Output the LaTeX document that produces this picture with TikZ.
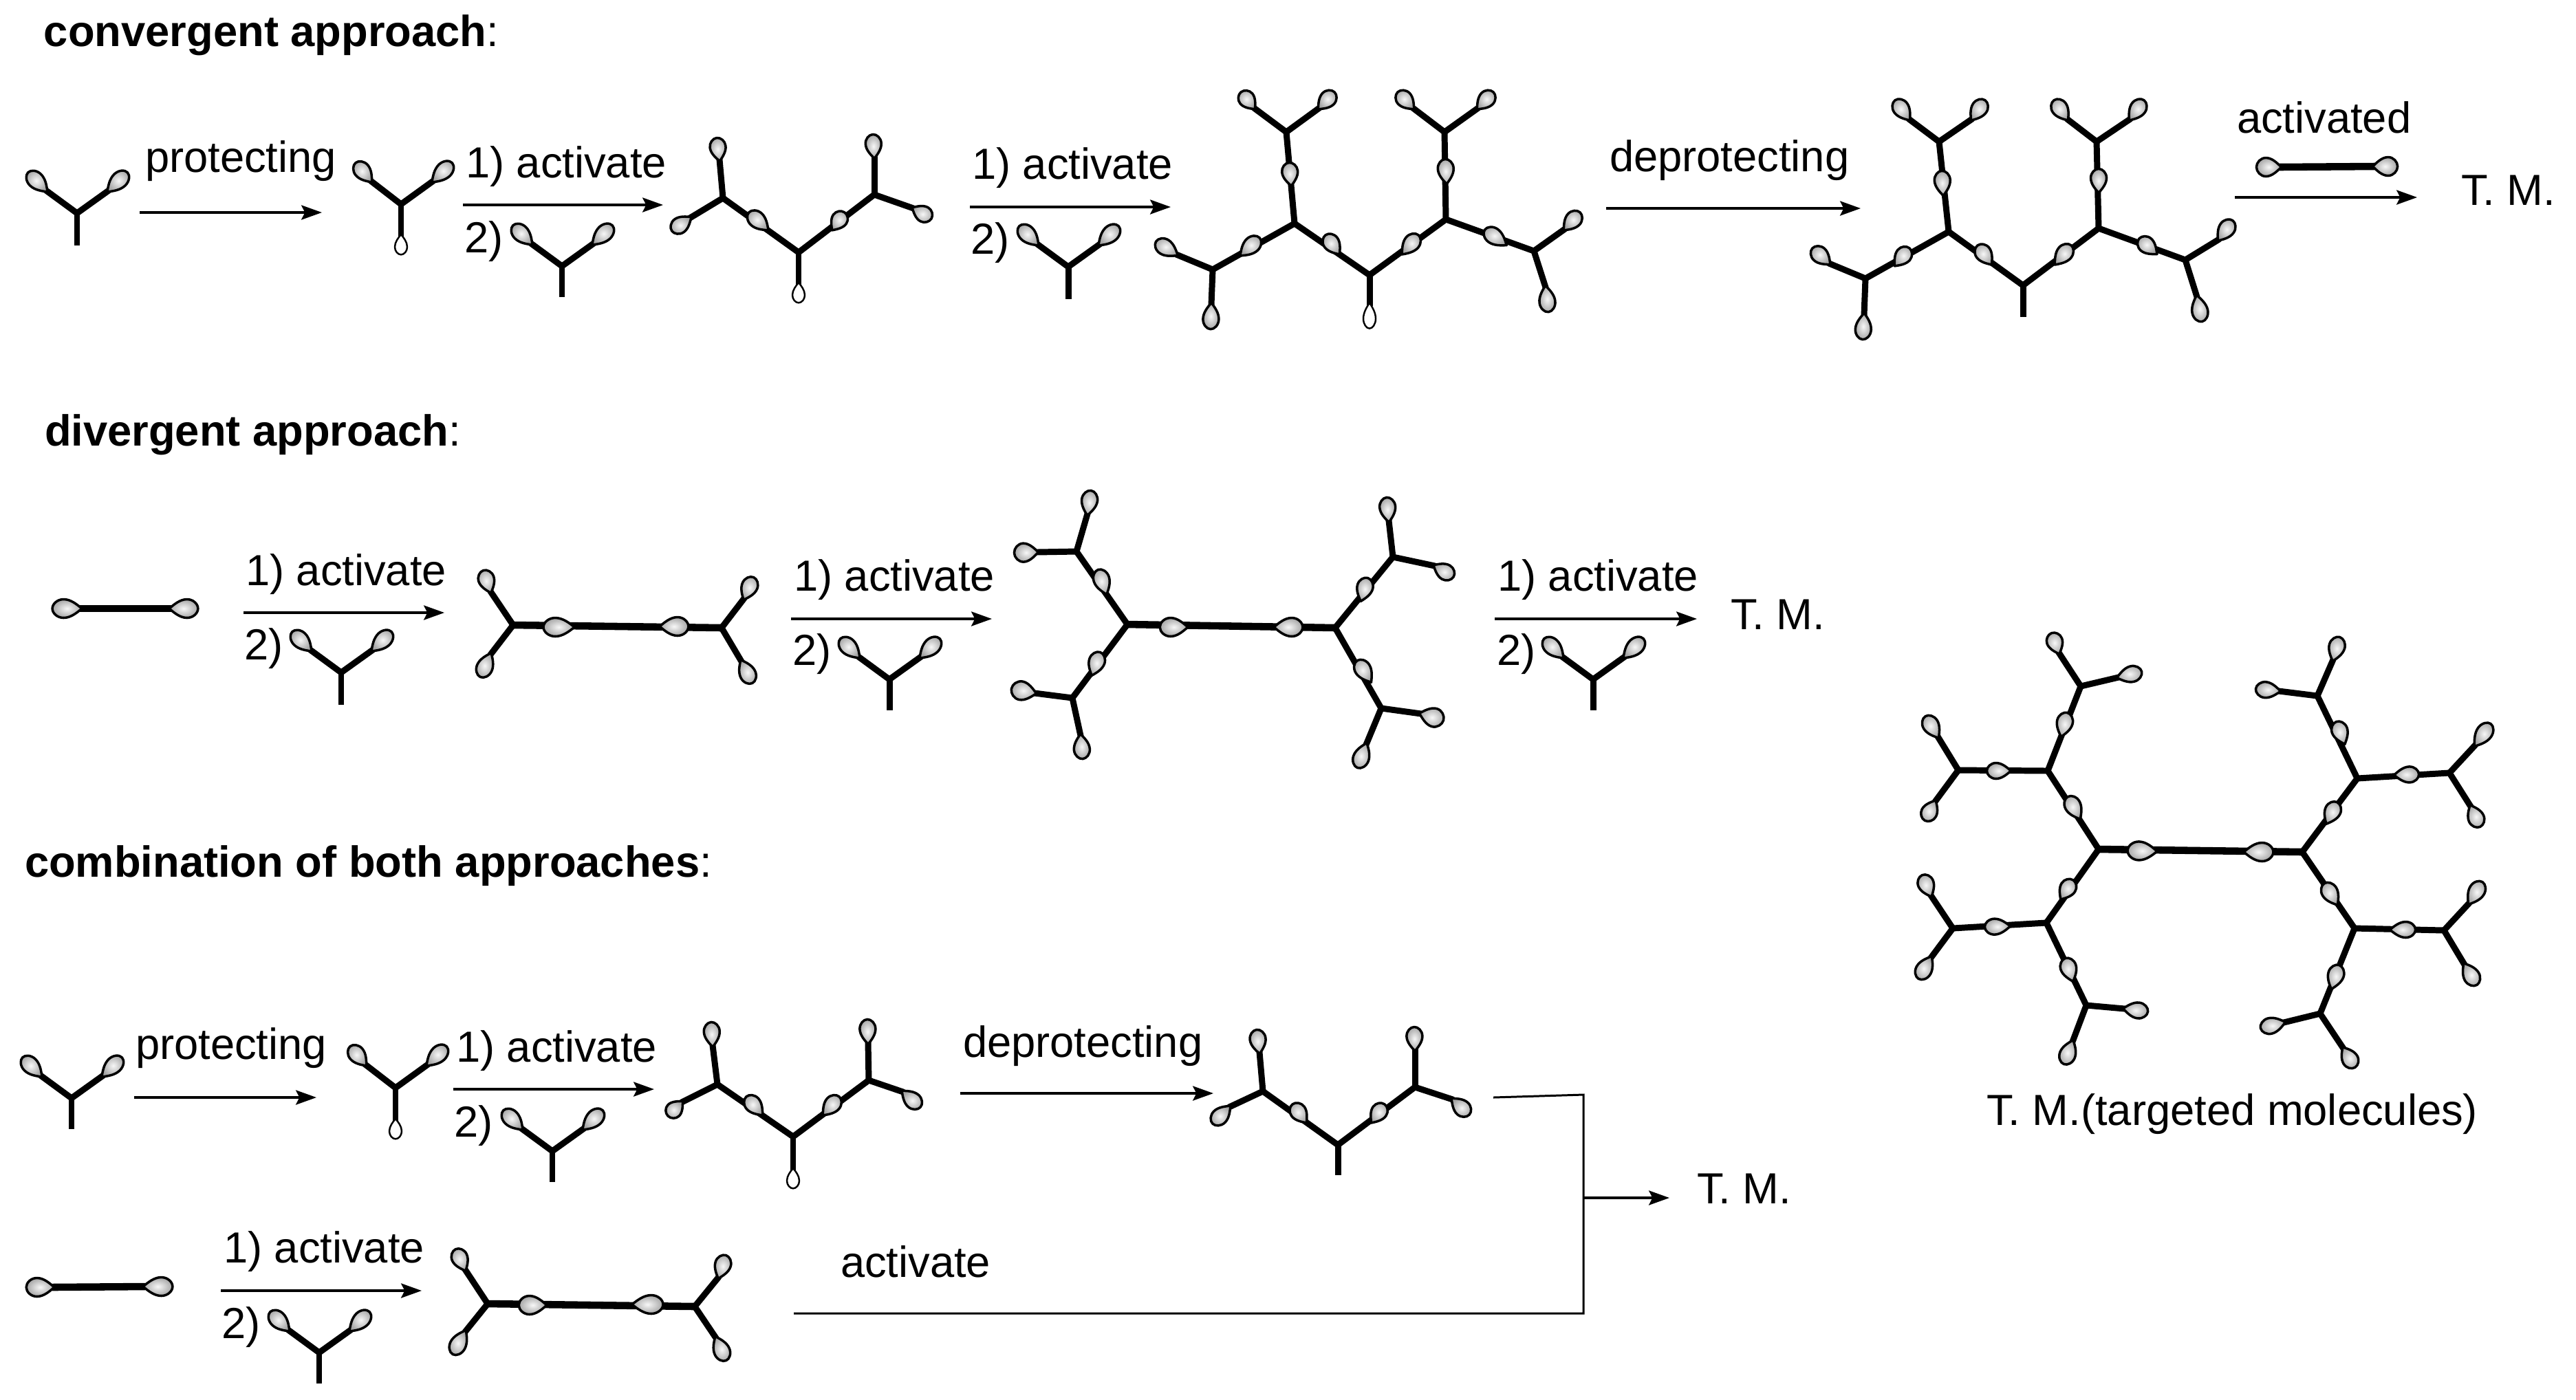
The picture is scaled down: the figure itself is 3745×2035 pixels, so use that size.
\documentclass[tikz,border=0pt]{standalone}
\usepackage{fontspec}
\setmainfont{Liberation Sans}
\usetikzlibrary{arrows.meta}
\tikzset{
  bondline/.style={line width=2.55pt,line cap=round,line join=round,black},
  stemline/.style={line width=2.55pt,line cap=butt,black},
  rodline/.style={line width=3pt,line cap=butt,black},
  orb/.style={draw=black,line width=1pt,line join=round,inner color=gray!6,outer color=gray!70},
  orbwhite/.style={draw=black,line width=0.7pt,line join=round,fill=white},
  rxn/.style={line width=1pt,-{Stealth[length=8.5pt,width=6pt,inset=1.5pt]}},
  joinline/.style={line width=0.85pt,line join=miter},
  lab/.style={anchor=base west,inner sep=0pt,outer sep=0pt,font=\fontsize{18}{20}\selectfont,text=black}
}
% teardrop from narrow base (a) to round far end (b)
\newcommand\lpt[2]{({\lA+#1*\ldx+#2*\lnx},{\lB+#1*\ldy+#2*\lny})}
\newcommand\lobepath[6]{%
  \pgfmathsetmacro\lA{#1}\pgfmathsetmacro\lB{#2}%
  \pgfmathsetmacro\ldx{#3-#1}\pgfmathsetmacro\ldy{#4-#2}%
  \pgfmathsetmacro\lln{veclen(\ldx,\ldy)}%
  \pgfmathsetmacro\lnx{-\ldy/\lln*#5/2}\pgfmathsetmacro\lny{\ldx/\lln*#5/2}%
  \path[#6] \lpt{-.08}{0} .. controls \lpt{.1}{.42} and \lpt{.34}{1} .. \lpt{.62}{1}
    .. controls \lpt{.86}{1} and \lpt{1.05}{.5} .. \lpt{1.05}{0}
    .. controls \lpt{1.05}{-.5} and \lpt{.86}{-1} .. \lpt{.62}{-1}
    .. controls \lpt{.34}{-1} and \lpt{.1}{-.42} .. \lpt{-.08}{0} -- cycle;}
\newcommand\lobe[4]{\lobepath{#1}{#2}{#3}{#4}{23}{orb}}
\newcommand\flobe[4]{\lobepath{#1}{#2}{#3}{#4}{27}{orb}}
\newcommand\wlobe[4]{\lobepath{#1}{#2}{#3}{#4}{18}{orbwhite}}
\newcommand\bd[4]{\draw[bondline] (#1,#2) -- (#3,#4);}
% bond from junction to a base, then lobe
\newcommand\arm[6]{\bd{#1}{#2}{#3}{#4}\lobe{#3}{#4}{#5}{#6}}
\newcommand\farm[6]{\bd{#1}{#2}{#3}{#4}\flobe{#3}{#4}{#5}{#6}}
% bond between junctions with a lobe on it
\newcommand\midl[8]{\bd{#1}{#2}{#3}{#4}\lobe{#5}{#6}{#7}{#8}}
\newcommand\stem[3]{\draw[stemline] (#1,#2) -- (#1,#3);}
% the Y unit
\newcommand\yunit[3]{%
  \pgfmathsetmacro\ya{#1-45}\pgfmathsetmacro\yb{#2-33}\pgfmathsetmacro\yc{#1-70}\pgfmathsetmacro\yd{#2-58}%
  \pgfmathsetmacro\ye{#1+46}\pgfmathsetmacro\yf{#1+72}%
  \edef\yargs{{#1}{#2}{\ya}{\yb}{\yc}{\yd}}%
  \expandafter\arm\yargs
  \edef\yargs{{#1}{#2}{\ye}{\yb}{\yf}{\yd}}%
  \expandafter\arm\yargs
  \stem{#1}{#2}{#3}}
\newcommand\rxnarrow[4]{%
  \coordinate (#1a) at (#2,#4);\coordinate (#1b) at (#3,#4);\draw[rxn] (#1a) -- (#1b);}
\begin{document}
\begin{tikzpicture}[x=0.01cm,y=-0.01cm]
\useasboundingbox (0,0) rectangle (3745,2035);
\fill[white] (0,0) rectangle (3745,2035);
% ---- texts
\node[lab] (h1) at (64,67) {\textbf{convergent approach}:};
\node[lab] (h2) at (65,648) {\textbf{divergent approach}:};
\node[lab] (h3) at (36,1275) {\textbf{combination of both approaches}:};
\node[lab] (t1) at (211,250) {protecting};
\node[lab] (t2) at (677,258) {1) activate};
\node[lab] (t3) at (675,367) {2)};
\node[lab] (t4) at (1413,260) {1) activate};
\node[lab] (t5) at (1411,369) {2)};
\node[lab] (t6) at (2340,249) {deprotecting};
\node[lab] (t7) at (3252,193) {activated};
\node[lab] (tm1) at (3578,298) {T. M.};
\node[lab] (t8) at (357,851) {1) activate};
\node[lab] (t9) at (355,959) {2)};
\node[lab] (t10) at (1154,859) {1) activate};
\node[lab] (t11) at (1152,967) {2)};
\node[lab] (t12) at (2177,859) {1) activate};
\node[lab] (t13) at (2176,967) {2)};
\node[lab] (tm2) at (2516,915) {T. M.};
\node[lab] (t14) at (197,1540) {protecting};
\node[lab] (t15) at (663,1544) {1) activate};
\node[lab] (t16) at (660,1653) {2)};
\node[lab] (t17) at (1400,1537) {deprotecting};
\node[lab] (t18) at (325,1836) {1) activate};
\node[lab] (t19) at (322,1946) {2)};
\node[lab] (t20) at (1222,1857) {activate};
\node[lab] (tm3) at (2467,1750) {T. M.};
\node[lab] (tm4) at (2888,1636) {T. M.(targeted molecules)};
% ---- arrows
\rxnarrow{r1}{203}{468}{309}
\rxnarrow{r2}{673}{964}{298}
\rxnarrow{r3}{1410}{1702}{301}
\rxnarrow{r4}{2335}{2705}{303}
\rxnarrow{r5}{3249}{3514}{287}
\rxnarrow{d1}{354}{646}{891}
\rxnarrow{d2}{1150}{1442}{900}
\rxnarrow{d3}{2173}{2467}{900}
\rxnarrow{c1}{195}{460}{1596}
\rxnarrow{c2}{659}{951}{1584}
\rxnarrow{c3}{1396}{1764}{1590}
\rxnarrow{c4}{321}{613}{1877}
\coordinate (ja) at (2171,1596);\coordinate (jb) at (2302,1592);
\coordinate (jc) at (2302,1910);\coordinate (jd) at (1154,1910);
\coordinate (je) at (2302,1742);\coordinate (jf) at (2427,1742);
\draw[joinline] (ja) -- (jb) -- (jc) -- (jd);
\draw[rxn] (je) -- (jf);
% ---- simple Y units
\yunit{112}{310}{357}
\yunit{817}{387}{432}
\yunit{1553}{388}{435}
\yunit{496}{978}{1025}
\yunit{1293}{988}{1033}
\yunit{2316}{988}{1033}
\yunit{104}{1597}{1642}
\yunit{803}{1674}{1719}
\yunit{464}{1967}{2012}
% protected Y, row 1
\arm{583}{297}{539}{263}{518}{238}
\arm{583}{297}{630}{263}{656}{238}
\stem{583}{297}{345}\wlobe{583}{343}{583}{369}
% protected Y, row 3
\arm{575}{1582}{531}{1548}{510}{1523}
\arm{575}{1582}{622}{1548}{648}{1523}
\stem{575}{1582}{1631}\wlobe{575}{1629}{575}{1655}
% ---- M1 row 1
\stem{1161}{367}{415}\wlobe{1161}{413}{1161}{439}
\midl{1161}{367}{1051}{288}{1115}{333}{1090}{310}
\midl{1161}{367}{1271}{283}{1211}{333}{1227}{310}
\arm{1051}{288}{1046}{232}{1042}{202}
\arm{1051}{288}{1003}{317}{978}{335}
\arm{1271}{283}{1271}{228}{1269}{197}
\arm{1271}{283}{1328}{303}{1353}{317}
% ---- M2 row 1
\stem{1991}{400}{445}\wlobe{1991}{443}{1991}{476}
\midl{1991}{400}{1882}{325}{1946}{368}{1928}{343}
\midl{1991}{400}{2102}{319}{2040}{368}{2061}{343}
\midl{1882}{325}{1870}{192}{1877}{268}{1874}{238}
\midl{2102}{319}{2100}{192}{2103}{265}{2101}{233}
\arm{1870}{192}{1823}{157}{1805}{135}
\arm{1870}{192}{1918}{157}{1939}{135}
\arm{2100}{192}{2054}{157}{2033}{135}
\arm{2100}{192}{2149}{157}{2170}{135}
\midl{1882}{325}{1763}{392}{1805}{370}{1830}{347}
\arm{1763}{392}{1710}{370}{1682}{352}
\arm{1763}{392}{1761}{443}{1760}{477}
\midl{2102}{319}{2230}{365}{2188}{355}{2160}{335}
\arm{2230}{365}{2275}{333}{2296}{310}
\arm{2230}{365}{2247}{418}{2251}{452}
% ---- M3 row 1
\stem{2941}{415}{461}
\midl{2941}{415}{2833}{337}{2894}{383}{2876}{358}
\midl{2941}{415}{3051}{332}{2989}{383}{3010}{358}
\midl{2833}{337}{2819}{206}{2825}{282}{2823}{250}
\midl{3051}{332}{3048}{206}{3051}{278}{3051}{247}
\arm{2819}{206}{2775}{173}{2756}{147}
\arm{2819}{206}{2867}{173}{2885}{147}
\arm{3048}{206}{3005}{173}{2987}{147}
\arm{3048}{206}{3097}{173}{3116}{147}
\midl{2833}{337}{2712}{405}{2756}{385}{2775}{362}
\arm{2712}{405}{2659}{383}{2636}{362}
\arm{2712}{405}{2710}{458}{2708}{492}
\midl{3051}{332}{3177}{378}{3134}{368}{3111}{348}
\arm{3177}{378}{3226}{348}{3245}{322}
\arm{3177}{378}{3194}{432}{3201}{466}
% ---- rods
\draw[rodline] (3314,243) -- (3452,242);\flobe{3314}{243}{3282}{243}\flobe{3452}{242}{3484}{242}
\draw[rodline] (116,885) -- (249,885);\flobe{116}{885}{78}{885}\flobe{249}{885}{286}{885}
\draw[rodline] (76,1872) -- (211,1871);\flobe{76}{1872}{40}{1872}\flobe{211}{1871}{249}{1871}
% ---- D1
\draw[rodline] (746,909) -- (1049,913);\flobe{832}{912}{792}{912}\flobe{962}{911}{999}{911}
\arm{746}{909}{713}{860}{703}{831}
\arm{746}{909}{713}{952}{699}{983}
\arm{1049}{913}{1082}{870}{1095}{841}
\arm{1049}{913}{1078}{962}{1093}{992}
% ---- D2
\draw[rodline] (1639,908) -- (1941,913);\flobe{1724}{912}{1688}{912}\flobe{1855}{912}{1892}{912}
\midl{1639}{908}{1565}{802}{1608}{862}{1597}{830}
\arm{1565}{802}{1581}{747}{1586}{715}
\farm{1565}{802}{1507}{803}{1476}{804}
\midl{1941}{913}{2025}{810}{1979}{872}{1988}{842}
\arm{2025}{810}{2019}{757}{2016}{725}
\arm{2025}{810}{2086}{823}{2112}{838}
\midl{1639}{908}{1559}{1015}{1588}{980}{1599}{950}
\farm{1559}{1015}{1504}{1008}{1472}{1002}
\arm{1559}{1015}{1571}{1070}{1574}{1102}
\midl{1941}{913}{2008}{1030}{1992}{990}{1974}{962}
\farm{2008}{1030}{2066}{1038}{2097}{1047}
\arm{2008}{1030}{1986}{1083}{1974}{1115}
% ---- combo molecule 1
\stem{1153}{1653}{1703}\wlobe{1153}{1701}{1153}{1727}
\midl{1153}{1653}{1043}{1577}{1107}{1620}{1086}{1596}
\midl{1153}{1653}{1263}{1571}{1198}{1620}{1219}{1596}
\arm{1043}{1577}{1036}{1520}{1034}{1488}
\arm{1043}{1577}{991}{1603}{972}{1622}
\arm{1263}{1571}{1262}{1516}{1261}{1484}
\arm{1263}{1571}{1313}{1588}{1337}{1609}
% ---- combo molecule 2
\stem{1945}{1665}{1709}
\midl{1945}{1665}{1836}{1587}{1898}{1631}{1880}{1607}
\midl{1945}{1665}{2057}{1581}{1995}{1631}{2012}{1607}
\arm{1836}{1587}{1831}{1530}{1827}{1499}
\arm{1836}{1587}{1787}{1610}{1764}{1633}
\arm{2057}{1581}{2057}{1526}{2056}{1495}
\arm{2057}{1581}{2112}{1599}{2135}{1620}
% ---- combo rod molecule
\draw[rodline] (709,1896) -- (1010,1900);\flobe{792}{1898}{756}{1898}\flobe{922}{1897}{962}{1897}
\arm{709}{1896}{676}{1846}{663}{1818}
\arm{709}{1896}{676}{1937}{659}{1968}
\arm{1010}{1900}{1045}{1857}{1055}{1827}
\arm{1010}{1900}{1041}{1946}{1055}{1977}
% ---- targeted molecule
\draw[rodline] (3051,1235) -- (3347,1239);\flobe{3133}{1238}{3095}{1237}\flobe{3265}{1239}{3303}{1239}
\midl{3051}{1235}{2977}{1121}{3023}{1189}{3007}{1160}
\midl{2977}{1121}{3025}{998}{2997}{1069}{3005}{1038}
\arm{3025}{998}{2993}{949}{2983}{922}
\arm{3025}{998}{3080}{985}{3112}{977}
\midl{2977}{1121}{2847}{1120}{2921}{1121}{2890}{1121}
\arm{2847}{1120}{2817}{1071}{2800}{1043}
\arm{2847}{1120}{2813}{1166}{2799}{1192}
\midl{3051}{1235}{2975}{1342}{2997}{1306}{3013}{1281}
\midl{2975}{1342}{2839}{1350}{2920}{1347}{2887}{1348}
\arm{2839}{1350}{2807}{1302}{2795}{1274}
\arm{2839}{1350}{2807}{1393}{2790}{1422}
\midl{2975}{1342}{3033}{1462}{3013}{1425}{3003}{1395}
\arm{3033}{1462}{3089}{1467}{3121}{1471}
\arm{3033}{1462}{3013}{1515}{3001}{1546}
\midl{3347}{1239}{3427}{1132}{3383}{1196}{3397}{1168}
\midl{3427}{1132}{3369}{1012}{3408}{1080}{3397}{1051}
\arm{3369}{1012}{3392}{959}{3401}{928}
\arm{3369}{1012}{3313}{1005}{3281}{1002}
\midl{3427}{1132}{3561}{1124}{3483}{1127}{3515}{1126}
\arm{3561}{1124}{3599}{1083}{3620}{1054}
\arm{3561}{1124}{3592}{1173}{3605}{1201}
\midl{3347}{1239}{3423}{1350}{3397}{1314}{3380}{1286}
\midl{3423}{1350}{3553}{1353}{3477}{1352}{3510}{1352}
\arm{3553}{1353}{3590}{1313}{3608}{1284}
\arm{3553}{1353}{3583}{1403}{3600}{1431}
\midl{3423}{1350}{3373}{1474}{3390}{1436}{3400}{1405}
\arm{3373}{1474}{3320}{1487}{3288}{1495}
\arm{3373}{1474}{3407}{1525}{3423}{1551}
\end{tikzpicture}
\end{document}
